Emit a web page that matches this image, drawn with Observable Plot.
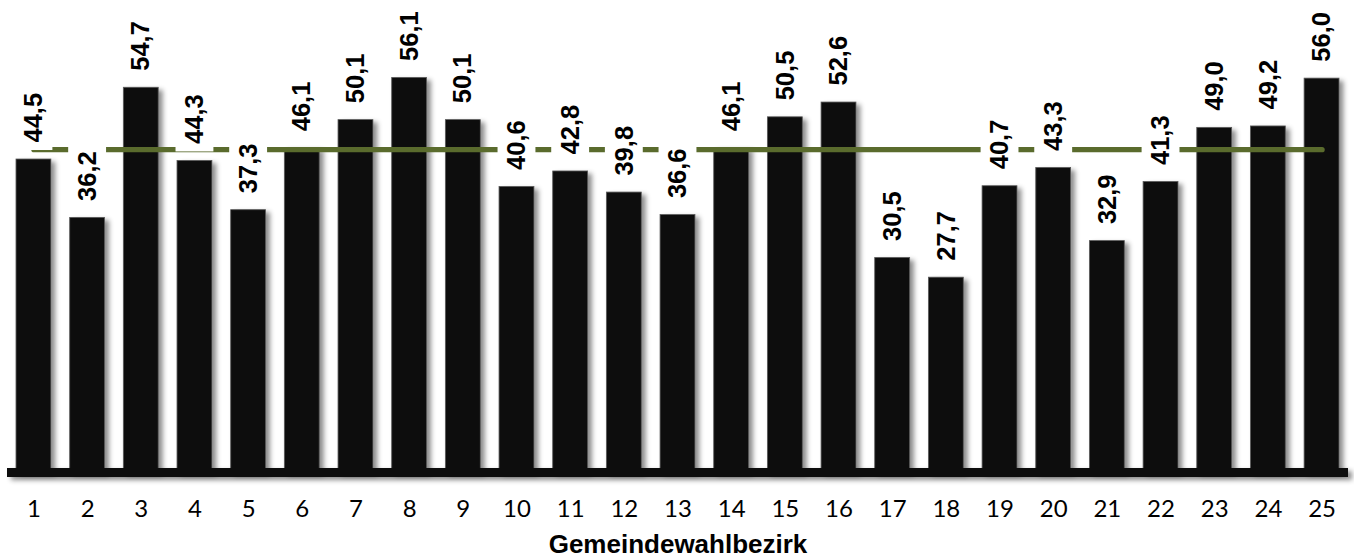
<!DOCTYPE html>
<html>
<head>
<meta charset="utf-8">
<script src="https://cdn.jsdelivr.net/npm/d3@7"></script>
<script src="https://cdn.jsdelivr.net/npm/@observablehq/plot@0.6"></script>
<style>
  html, body { margin: 0; padding: 0; background: #ffffff; }
  #chart svg { display: block; }
</style>
</head>
<body>
<div id="chart"></div>
<script>
const districts = ["1","2","3","4","5","6","7","8","9","10","11","12","13","14","15","16","17","18","19","20","21","22","23","24","25"];
const values = [44.5, 36.2, 54.7, 44.3, 37.3, 46.1, 50.1, 56.1, 50.1, 40.6, 42.8, 39.8, 36.6, 46.1, 50.5, 52.6, 30.5, 27.7, 40.7, 43.3, 32.9, 41.3, 49.0, 49.2, 56.0];
const referenceValue = 45.9;
const referenceEnds = ["1", "25"];
const axisTitle = "Gemeindewahlbezirk";

const data = districts.map((d, i) => ({district: d, value: values[i]}));
const refData = referenceEnds.map(d => ({district: d, value: referenceValue}));
const fmt = v => v.toFixed(1).replace(".", ",");

const labelFont = "'Liberation Sans', Arial, sans-serif";

const chart = Plot.plot({
  width: 1354,
  height: 560,
  marginLeft: 16,
  marginRight: 15,
  marginTop: 50,
  marginBottom: 88,
  style: {background: "white", fontFamily: "Lato, sans-serif", fontSize: "24px", color: "#000"},
  x: {domain: districts, paddingInner: 0.35, paddingOuter: 0, round: false, tickSize: 0, tickPadding: 27, label: null},
  y: {domain: [0, 60], axis: null},
  marks: [
    Plot.barY(data, {x: "district", y: "value", fill: "#0f0f0f", stroke: "#5a5a5a", strokeWidth: 0.8}),
    Plot.line(refData, {x: "district", y: "value", stroke: "#5a6b2d", strokeWidth: 5.3, strokeLinecap: "round"}),
    Plot.barY(data, {x: "district", y1: "value", y2: "value", fill: "white", insetTop: -72, insetBottom: 9, insetLeft: -1.5, insetRight: -1.5}),
    Plot.text(data, {x: "district", y: "value", text: d => fmt(d.value), rotate: -90, textAnchor: "start", dy: -17, fontFamily: labelFont, fontWeight: "bold", fontSize: 25.5, fill: "#000"}),
    Plot.ruleY([0], {stroke: "#0f0f0f", strokeWidth: 9, insetLeft: -9, insetRight: -9}),
    Plot.text([axisTitle], {text: d => d, frameAnchor: "bottom", lineAnchor: "middle", dy: 72, fontFamily: labelFont, fontWeight: "bold", fontSize: 26, fill: "#000"})
  ]
});

// drop shadow filter (user-space region so zero-height rules still render)
const svg = d3.select(chart);
const defs = svg.insert("defs", ":first-child");
const f = defs.append("filter").attr("id", "shadow").attr("filterUnits", "userSpaceOnUse")
  .attr("x", 0).attr("y", 0).attr("width", 1354).attr("height", 560);
f.append("feDropShadow").attr("dx", 4).attr("dy", 3).attr("stdDeviation", 2.5).attr("flood-color", "#000").attr("flood-opacity", 0.45);
const barGroups = svg.selectAll('g[aria-label="bar"]').nodes();
if (barGroups.length) d3.select(barGroups[0]).attr("filter", "url(#shadow)");
svg.selectAll('g[aria-label="rule"]').attr("filter", "url(#shadow)");

document.getElementById("chart").appendChild(chart);
</script>
</body>
</html>
